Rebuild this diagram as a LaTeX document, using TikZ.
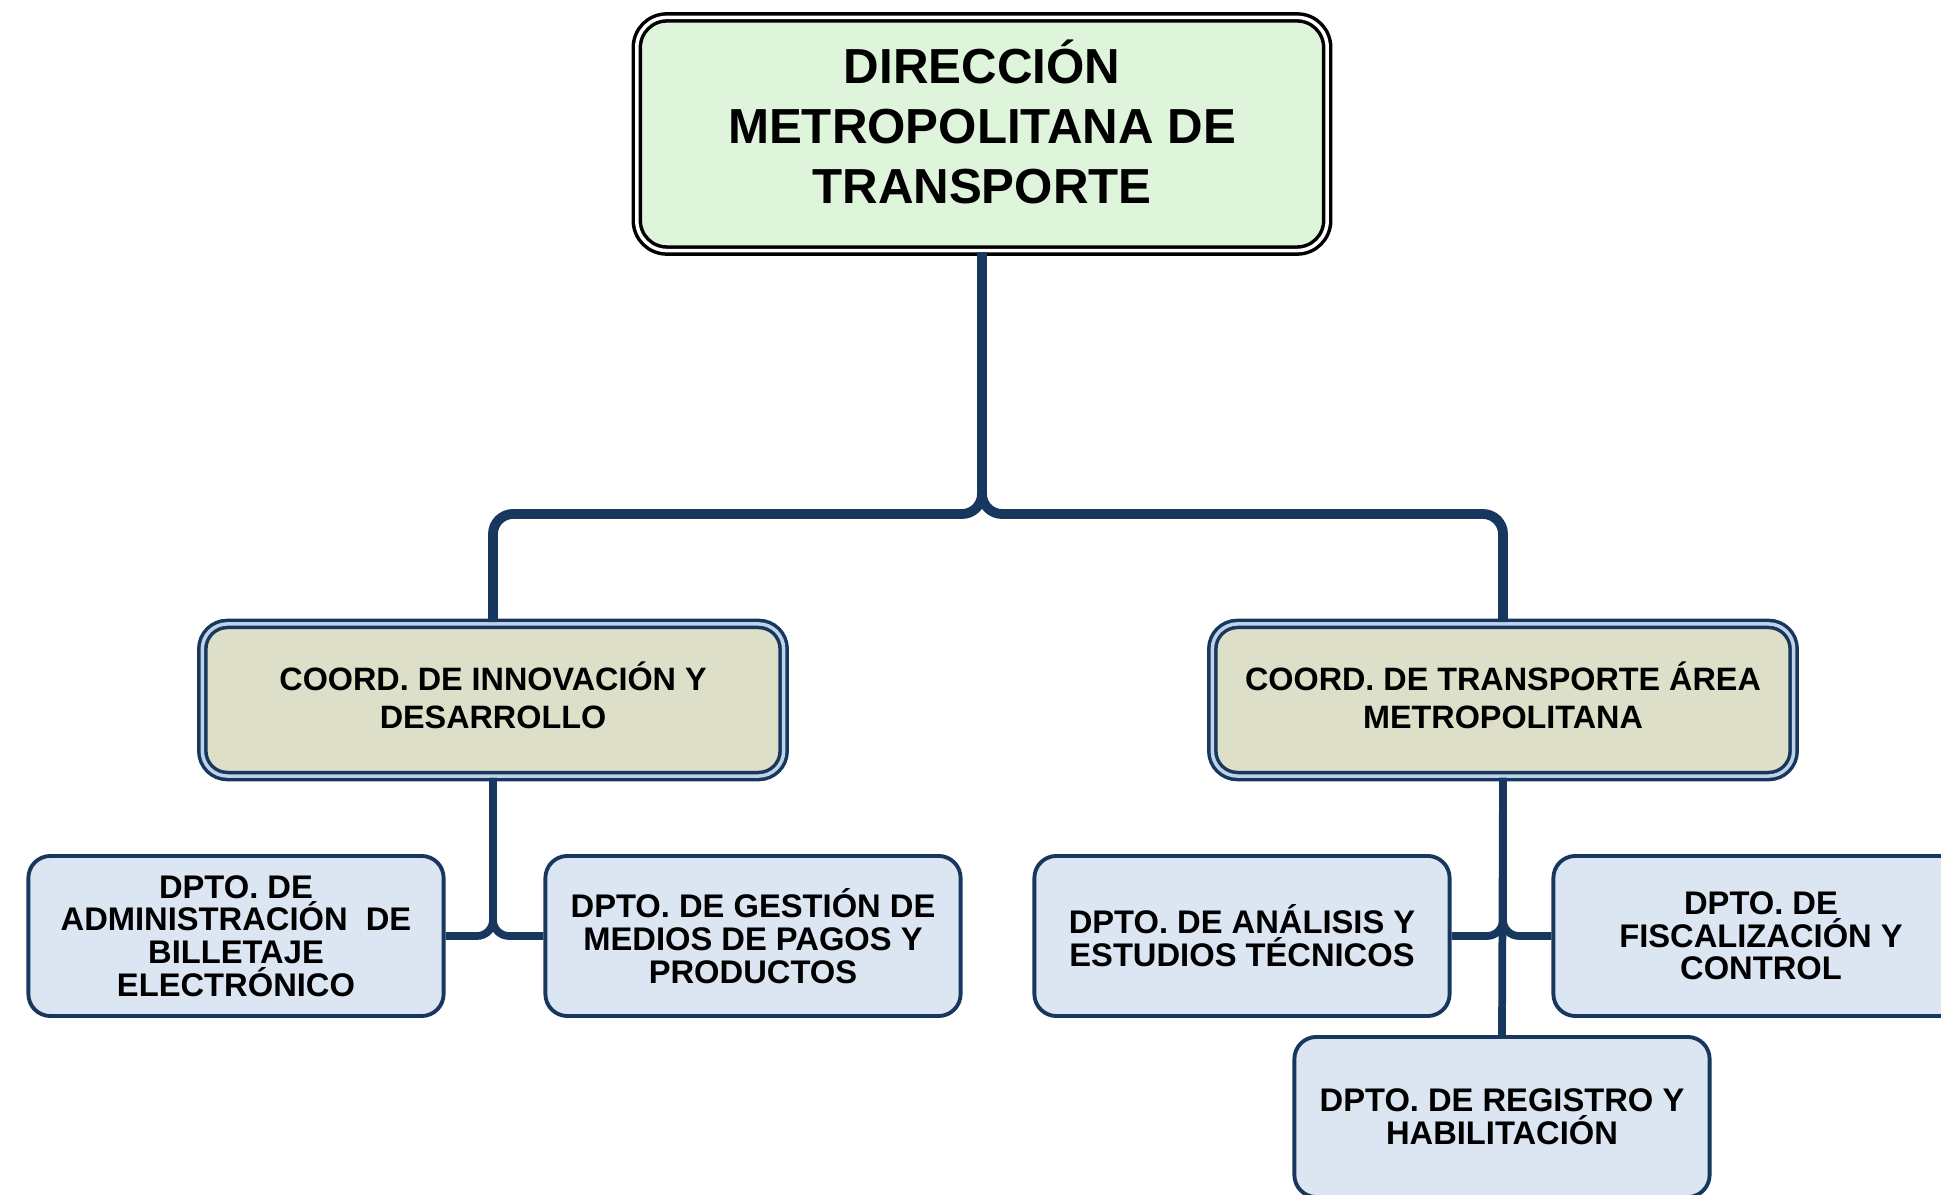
\documentclass[tikz,border=0pt]{standalone}
\usepackage{fontspec}
\setmainfont{Liberation Sans}
\usepackage{tikz}
\usetikzlibrary{positioning}
\definecolor{navy}{HTML}{17375E}
\definecolor{dirgreen}{HTML}{DFF5DB}
\definecolor{coordkhaki}{HTML}{DDDFC8}
\definecolor{coordgap}{HTML}{BFD2E8}
\definecolor{dptoblue}{HTML}{DCE6F2}

\begin{document}
\begin{tikzpicture}[
  x=0.01cm, y=-0.01cm,
  dir/.style={draw=black, line width=1pt, double=white, double distance=1pt,
    rounded corners=0.3cm, fill=dirgreen, minimum width=6.9cm,
    minimum height=2.33cm, align=center,
    font=\fontsize{14}{17}\selectfont\bfseries},
  coord/.style={draw=navy, line width=1pt, double=coordgap, double distance=1pt,
    rounded corners=0.25cm, fill=coordkhaki, minimum width=5.81cm,
    minimum height=1.52cm, align=center,
    font=\fontsize{9.2}{10.9}\selectfont\bfseries},
  dpto/.style={draw=navy, line width=1.1pt, rounded corners=0.22cm,
    fill=dptoblue, minimum width=4.15cm, minimum height=1.6cm,
    inner sep=2pt, align=center,
    font=\fontsize{9.3}{9.3}\selectfont\bfseries},
  bus/.style={navy, line width=2.8pt, rounded corners=0.2cm},
  link/.style={navy, line width=2.2pt, rounded corners=0.16cm},
]
  \useasboundingbox (0,0) rectangle (1941,1195);

  % Direction (top)
  \node[dir] (dir) at (982, 134) {DIRECCIÓN\\METROPOLITANA DE\\TRANSPORTE\\[-10pt]\mbox{}};
  \coordinate (busy) at (0, 514);

  % Coordinations
  \node[coord] (cinn) at (493, 700) {COORD. DE INNOVACIÓN Y\\DESARROLLO\\[-8pt]\mbox{}};
  \node[coord] (ctra) at (1503, 700) {COORD. DE TRANSPORTE ÁREA\\METROPOLITANA\\[-8pt]\mbox{}};

  % Departments
  \node[dpto] (dadm) at (236, 936) {DPTO. DE\\ADMINISTRACIÓN~ DE\\BILLETAJE\\ELECTRÓNICO};
  \node[dpto] (dges) at (753, 936) {DPTO. DE GESTIÓN DE\\MEDIOS DE PAGOS Y\\PRODUCTOS};
  \node[dpto] (dana) at (1242, 936) {DPTO. DE ANÁLISIS Y\\ESTUDIOS TÉCNICOS};
  \node[dpto] (dfis) at (1761, 936) {DPTO. DE\\FISCALIZACIÓN Y\\CONTROL};
  \node[dpto] (dreg) at (1502, 1117) {DPTO. DE REGISTRO Y\\HABILITACIÓN};

  % Connectors
  \foreach \c in {cinn, ctra} {
    \draw[bus] (dir.south) -- (dir.south |- busy) -| (\c.north);
  }
  \draw[link] (cinn.south) |- (dadm.east);
  \draw[link] (cinn.south) |- (dges.west);
  \draw[link] (ctra.south) |- (dana.east);
  \draw[link] (ctra.south) |- (dfis.west);
  \draw[link] (ctra.south) -- (dreg.north);
\end{tikzpicture}
\end{document}
